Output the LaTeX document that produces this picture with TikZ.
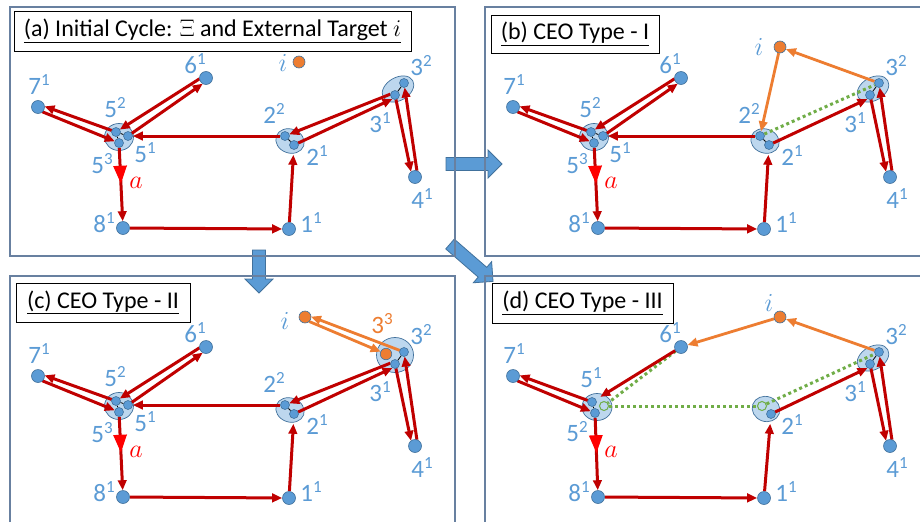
\documentclass[tikz,border=0pt]{standalone}
\usepackage{fix-cm}
\usepackage{fontspec}
\setmainfont{Carlito}
\usetikzlibrary{shapes.geometric,arrows.meta,calc,decorations.markings}
\definecolor{nblue}{RGB}{91,155,213}
\definecolor{nedge}{RGB}{65,113,156}
\definecolor{clfill}{RGB}{189,215,238}
\definecolor{dred}{RGB}{192,0,0}
\definecolor{bred}{RGB}{255,0,0}
\definecolor{oran}{RGB}{237,125,49}
\definecolor{grn}{RGB}{112,173,71}
\definecolor{frm}{RGB}{104,128,160}
\pgfdeclarelayer{bg}
\pgfdeclarelayer{fg}
\pgfsetlayers{bg,main,fg}
\newcommand\lb[2]{#1\raisebox{9pt}{\fontsize{17}{17}\selectfont #2}}
\newcommand\rlink[5][]{\draw[#1] ($(#2)!#4!-90:(#3)$) -- ($(#3)!#5!90:(#2)$);}
\newcommand\blkarrow[3]{\draw[barrow, shift={#1}, rotate=#2] (0,-6.5) -- ({#3-14},-6.5) -- ({#3-14},-14) -- (#3,0) -- ({#3-14},14) -- ({#3-14},6.5) -- (0,6.5) -- cycle;}
\newcommand\commonnodes[1]{%
  \node[bnode] (#1n7) at (38,107) {};
  \node[bnode] (#1n6) at (206,78) {};
  \node[bnode] (#1n4) at (415,177) {};
  \node[bnode] (#1n8) at (123,228) {};
  \node[bnode] (#1n1) at (289,229) {};
  \node[lab] (#1l7) at (39,85) {\lb{7}{1}};
  \node[lab] (#1l6) at (195,64) {\lb{6}{1}};
  \node[lab] (#1l4) at (422,199) {\lb{4}{1}};
  \node[lab] (#1l8) at (104,223) {\lb{8}{1}};
  \node[lab] (#1l1) at (311,223) {\lb{1}{1}};
  \node[lab] (#1l31) at (380,123) {\lb{3}{1}};
  \node[lab] (#1l32) at (421,66) {\lb{3}{2}};
  \node[lab] (#1l21) at (317,156) {\lb{2}{1}};
  \node[alab] (#1la) at (136,183) {$a$};
}
\newcommand\commonedges[3]{%
  \draw[rarr] (#1n8) -- (#1n1);
  \draw[rarr, shorten >=5pt] (#1n1) -- (#1s21);
  \rlink[rarr, shorten <=4.5pt, shorten >=4pt]{#1s21}{#1s31}{0pt}{2.5pt}
  \rlink[rarr, shorten <=4.5pt, shorten >=6pt]{#1s31}{#1n4}{0pt}{2.8pt}
  \rlink[rarr, shorten <=6pt, shorten >=4.5pt]{#1n4}{#1s32}{2.8pt}{0pt}
  \rlink[rarr, shorten <=4.5pt, shorten >=6pt]{#1#2}{#1n7}{0pt}{2.8pt}
  \rlink[rarr, shorten <=6pt, shorten >=4.5pt]{#1n7}{#1#3}{2.8pt}{0pt}
  \draw[rarr, amark] (#1#3) -- (#1n8);
}
\newcommand\sixpair[1]{%
  \rlink[rarr, shorten <=6pt, shorten >=4.5pt]{#1n6}{#1s52}{2.8pt}{0pt}
  \rlink[rarr, shorten <=4.5pt, shorten >=6pt]{#1s51}{#1n6}{0pt}{2.8pt}
  \draw[rarr] (#1s22) -- (#1s51);
}
\newcommand\fivecluster[1]{%
  \node[snode] (#1s52) at (116,132) {};
  \node[snode] (#1s51) at (128,136) {};
  \node[snode] (#1s53) at (119,143) {};
  \node[snode] (#1s22) at (285,136) {};
  \node[snode] (#1s21) at (294,145) {};
  \node[snode] (#1s32) at (404,83) {};
  \node[snode] (#1s31) at (395,95) {};
  \node[lab] (#1l52) at (115,108) {\lb{5}{2}};
  \node[lab] (#1l51) at (145,153) {\lb{5}{1}};
  \node[lab] (#1l53) at (102,164) {\lb{5}{3}};
  \node[lab] (#1l22) at (274,113) {\lb{2}{2}};
}
\begin{document}
\begin{tikzpicture}[x=1pt,y=-1pt,
  bnode/.style={circle, fill=nblue, draw=nedge, line width=0.6pt, minimum size=13pt, inner sep=0pt},
  snode/.style={circle, fill=nblue, draw=nedge, line width=0.6pt, minimum size=9pt, inner sep=0pt},
  onode/.style={circle, fill=oran, draw=nedge, line width=0.6pt, minimum size=12pt, inner sep=0pt},
  gnode/.style={circle, draw=grn, line width=1pt, minimum size=9pt, inner sep=0pt},
  clus/.style={ellipse, fill=clfill, draw=nedge, line width=0.7pt, inner sep=0pt},
  lab/.style={text=nblue, font=\fontsize{25}{25}\selectfont, inner sep=0pt},
  alab/.style={text=bred, font=\fontsize{26}{26}\selectfont, inner sep=0pt},
  ilab/.style={text=nblue, font=\fontsize{26}{26}\selectfont, inner sep=0pt},
  ttl/.style={draw=black, line width=0.8pt, fill=white, font=\fontsize{24}{24}\selectfont, inner sep=0pt},
  rarr/.style={draw=dred, line width=3pt, -{Triangle[length=10pt,width=8.5pt]}},
  oarr/.style={draw=oran, line width=2.8pt, -{Triangle[length=10pt,width=8.5pt]}},
  gdot/.style={draw=grn, line width=3pt, dash pattern=on 3pt off 3pt},
  tiny/.style={draw=black, line width=0.8pt},
  frame/.style={draw=frm, line width=1.2pt},
  barrow/.style={fill=nblue, draw=nedge, line width=0.8pt},
  amark/.style={postaction={decorate}, decoration={markings, mark=at position 0.49 with {\arrow{Triangle[length=18pt,width=13pt,color=bred]}}}}
]
\useasboundingbox (0,0) rectangle (920,522);
\begin{pgfonlayer}{bg}
  \fill[white] (0,0) rectangle (920,522);
  \blkarrow{(446,164)}{0}{56}
  \blkarrow{(259,250)}{-90}{43}
  \blkarrow{(450,244)}{-41}{57}
  \draw[frame] (10,7) rectangle (455,256);
  \draw[frame] (920,7) -- (485,7) -- (485,256) -- (920,256);
  \draw[frame] (10,522) -- (10,276) -- (455,276) -- (455,522);
  \draw[frame] (485,522) -- (485,276) -- (920,276);
  \node[ttl, minimum width=397pt, minimum height=40pt] (ta) at (212.5,31) {\underline{(a) Initial Cycle: $\Xi$ and External Target $i$}};
  \node[ttl, minimum width=168pt, minimum height=38pt] (tb) at (575,34) {\underline{(b) CEO Type - I}};
  \node[ttl, minimum width=174pt, minimum height=39pt] (tc) at (103,302.5) {\underline{(c) CEO Type - II}};
  \node[ttl, minimum width=181pt, minimum height=40pt] (td) at (582.5,303) {\underline{(d) CEO Type - III}};
\end{pgfonlayer}

% ---------- panel (a)
\begin{scope}
  \begin{pgfonlayer}{bg}
    \node[clus, minimum width=29pt, minimum height=27pt] (ac5) at (119,137) {};
    \node[clus, minimum width=29pt, minimum height=24pt, rotate=-20] (ac2) at (290,141) {};
    \node[clus, minimum width=34pt, minimum height=23pt, rotate=30] (ac3) at (398,89) {};
  \end{pgfonlayer}
  \begin{pgfonlayer}{fg}
    \commonnodes{a}
    \fivecluster{a}
    \node[onode] (ai) at (299,62) {};
    \node[ilab] (ail) at (283,63) {$i$};
  \end{pgfonlayer}
  \draw[tiny] (as52) -- (as51);
  \draw[tiny] (as52) -- (as53);
  \draw[tiny] (as22) -- (as21);
  \draw[tiny] (as32) -- (as31);
  \commonedges{a}{s52}{s53}
  \sixpair{a}
  \rlink[rarr, shorten <=4pt, shorten >=4.5pt]{as31}{as22}{2.5pt}{0pt}
\end{scope}

% ---------- panel (b)
\begin{scope}[shift={(475,0)}]
  \begin{pgfonlayer}{bg}
    \node[clus, minimum width=29pt, minimum height=27pt] (bc5) at (119,137) {};
    \node[clus, minimum width=29pt, minimum height=24pt, rotate=-20] (bc2) at (290,141) {};
    \node[clus, minimum width=34pt, minimum height=23pt, rotate=30] (bc3) at (398,89) {};
  \end{pgfonlayer}
  \begin{pgfonlayer}{fg}
    \commonnodes{b}
    \fivecluster{b}
    \node[onode] (bi) at (305,47) {};
    \node[ilab] (bil) at (284,47) {$i$};
  \end{pgfonlayer}
  \draw[gdot] (bs22) -- (bs32);
  \draw[tiny] (bs52) -- (bs51);
  \draw[tiny] (bs52) -- (bs53);
  \draw[tiny] (bs22) -- (bs21);
  \draw[tiny] (bs32) -- (bs31);
  \commonedges{b}{s52}{s53}
  \sixpair{b}
  \draw[oarr] (bs32) -- (bi);
  \draw[oarr] (bi) -- (bs22);
\end{scope}

% ---------- panel (c)
\begin{scope}[shift={(0,269)}]
  \begin{pgfonlayer}{bg}
    \node[clus, minimum width=29pt, minimum height=27pt] (cc5) at (119,137) {};
    \node[clus, minimum width=29pt, minimum height=24pt, rotate=-20] (cc2) at (290,141) {};
    \node[clus, minimum width=37pt, minimum height=35pt] (cc3) at (395,86) {};
  \end{pgfonlayer}
  \begin{pgfonlayer}{fg}
    \commonnodes{c}
    \fivecluster{c}
    \node[onode, minimum size=11.5pt] (cs33) at (386,85) {};
    \node[lab, text=oran] (cl33) at (382,55) {\lb{3}{3}};
    \node[onode] (ci) at (305,48) {};
    \node[ilab] (cil) at (285,52) {$i$};
  \end{pgfonlayer}
  \draw[tiny] (cs52) -- (cs51);
  \draw[tiny] (cs52) -- (cs53);
  \draw[tiny] (cs22) -- (cs21);
  \draw[tiny] (cs32) -- (cs31);
  \commonedges{c}{s52}{s53}
  \sixpair{c}
  \rlink[rarr, shorten <=4pt, shorten >=4.5pt]{cs31}{cs22}{2.5pt}{0pt}
  \rlink[oarr, shorten <=4.5pt, shorten >=5.5pt]{cs32}{ci}{0pt}{2.5pt}
  \rlink[oarr, shorten <=5.5pt, shorten >=5.8pt]{ci}{cs33}{2.5pt}{0pt}
\end{scope}

% ---------- panel (d)
\begin{scope}[shift={(475,269)}]
  \begin{pgfonlayer}{bg}
    \node[clus, minimum width=30pt, minimum height=27pt] (dc5) at (122,138) {};
    \node[clus, minimum width=28pt, minimum height=25pt, rotate=-20] (dc2) at (291,140) {};
    \node[clus, minimum width=34pt, minimum height=23pt, rotate=30] (dc3) at (398,89) {};
  \end{pgfonlayer}
  \begin{pgfonlayer}{fg}
    \commonnodes{d}
    \node[snode] (ds51) at (117,133) {};
    \node[snode] (ds52) at (120,144) {};
    \node[gnode] (dg5) at (129,137) {};
    \node[gnode] (dg2) at (287,137) {};
    \node[snode] (ds21) at (296,145) {};
    \node[snode] (ds32) at (404,83) {};
    \node[snode] (ds31) at (395,95) {};
    \node[lab] (dl51) at (116,109) {\lb{5}{1}};
    \node[lab] (dl52) at (102,163) {\lb{5}{2}};
    \node[onode] (di) at (305,48) {};
    \node[ilab] (dil) at (294,34) {$i$};
  \end{pgfonlayer}
  \draw[gdot] (dn6) -- (dg5);
  \draw[gdot] (dg5) -- (dg2);
  \draw[gdot] (dg2) -- (ds32);
  \draw[tiny] (ds51) -- (ds52);
  \draw[tiny] (ds32) -- (ds31);
  \commonedges{d}{s51}{s52}
  \draw[rarr, shorten >=5pt] (dn6) -- (ds51);
  \draw[oarr] (ds32) -- (di);
  \draw[oarr] (di) -- (dn6);
\end{scope}
\end{tikzpicture}
\end{document}
